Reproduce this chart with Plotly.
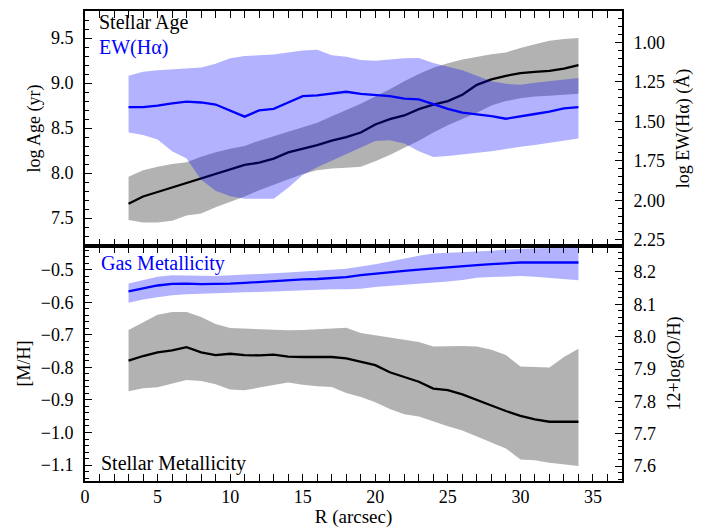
import plotly.graph_objects as go
from plotly.subplots import make_subplots

# ---------------- data ----------------
R = [3, 4, 5, 6, 7, 8, 9, 10, 11, 12, 13, 14, 15, 16, 17, 18, 19, 20, 21, 22,
     23, 24, 25, 26, 27, 28, 29, 30, 31, 32, 33, 34]

age = [7.66, 7.74, 7.79, 7.84, 7.89, 7.94, 7.99, 8.04, 8.09, 8.115, 8.16, 8.23,
       8.27, 8.31, 8.36, 8.40, 8.45, 8.54, 8.60, 8.64, 8.71, 8.76, 8.80, 8.87,
       8.98, 9.04, 9.08, 9.11, 9.125, 9.135, 9.16, 9.20]
age_hi = [7.96, 8.03, 8.07, 8.10, 8.12, 8.18, 8.23, 8.27, 8.30, 8.36, 8.41, 8.46,
          8.51, 8.56, 8.63, 8.70, 8.77, 8.85, 8.93, 9.02, 9.10, 9.17, 9.22, 9.26,
          9.29, 9.32, 9.34, 9.39, 9.43, 9.47, 9.49, 9.50]
age_lo = [7.48, 7.45, 7.45, 7.47, 7.53, 7.55, 7.62, 7.68, 7.74, 7.81, 7.87, 7.93,
          7.99, 8.03, 8.05, 8.06, 8.07, 8.13, 8.20, 8.28, 8.36, 8.45, 8.53, 8.60,
          8.67, 8.75, 8.80, 8.83, 8.85, 8.86, 8.87, 8.88]

ew = [1.41, 1.41, 1.40, 1.385, 1.375, 1.38, 1.393, 1.43, 1.47, 1.43, 1.42, 1.38,
      1.34, 1.335, 1.322, 1.312, 1.325, 1.334, 1.34, 1.355, 1.36, 1.39, 1.42,
      1.445, 1.455, 1.466, 1.483, 1.47, 1.453, 1.438, 1.417, 1.41]
ew_top = [1.21, 1.185, 1.175, 1.17, 1.165, 1.158, 1.135, 1.10, 1.085, 1.079,
          1.076, 1.063, 1.05, 1.045, 1.08, 1.09, 1.11, 1.115, 1.108, 1.10, 1.098,
          1.13, 1.153, 1.175, 1.21, 1.245, 1.262, 1.268, 1.255, 1.245, 1.235, 1.225]
ew_bot = [1.57, 1.587, 1.615, 1.69, 1.735, 1.87, 1.94, 1.975, 1.99, 1.99, 1.99,
          1.92, 1.84, 1.79, 1.75, 1.71, 1.67, 1.625, 1.62, 1.64, 1.69, 1.725,
          1.72, 1.71, 1.703, 1.69, 1.675, 1.66, 1.65, 1.635, 1.62, 1.608]

mh = [-0.779, -0.765, -0.754, -0.748, -0.738, -0.754, -0.762, -0.758, -0.762,
      -0.763, -0.761, -0.767, -0.768, -0.768, -0.768, -0.772, -0.782, -0.793,
      -0.815, -0.830, -0.844, -0.865, -0.870, -0.883, -0.899, -0.917, -0.934,
      -0.949, -0.960, -0.967, -0.967, -0.967]
mh_hi = [-0.685, -0.662, -0.638, -0.630, -0.630, -0.645, -0.667, -0.679, -0.681,
         -0.682, -0.686, -0.686, -0.685, -0.682, -0.680, -0.678, -0.694, -0.701,
         -0.708, -0.714, -0.722, -0.736, -0.734, -0.734, -0.736, -0.746, -0.762,
         -0.797, -0.799, -0.800, -0.768, -0.743]
mh_lo = [-0.873, -0.864, -0.861, -0.850, -0.839, -0.842, -0.852, -0.868, -0.870,
         -0.862, -0.855, -0.846, -0.853, -0.858, -0.860, -0.879, -0.891, -0.907,
         -0.928, -0.944, -0.951, -0.967, -0.981, -0.994, -1.013, -1.030, -1.049,
         -1.083, -1.085, -1.093, -1.098, -1.103]

oh = [8.140, 8.150, 8.158, 8.163, 8.164, 8.162, 8.162, 8.164, 8.166, 8.169,
      8.172, 8.174, 8.177, 8.178, 8.180, 8.184, 8.190, 8.195, 8.199, 8.203,
      8.207, 8.211, 8.215, 8.218, 8.221, 8.224, 8.227, 8.229, 8.229, 8.229,
      8.229, 8.229]
oh_hi = [8.164, 8.175, 8.185, 8.19, 8.19, 8.188, 8.187, 8.189, 8.19, 8.193,
         8.196, 8.198, 8.201, 8.203, 8.207, 8.21, 8.216, 8.224, 8.232, 8.242,
         8.25, 8.257, 8.259, 8.261, 8.262, 8.265, 8.269, 8.272, 8.273, 8.274,
         8.275, 8.275]
oh_lo = [8.105, 8.115, 8.122, 8.128, 8.131, 8.133, 8.135, 8.136, 8.137, 8.138,
         8.14, 8.142, 8.144, 8.146, 8.146, 8.146, 8.148, 8.153, 8.156, 8.16,
         8.164, 8.167, 8.17, 8.175, 8.182, 8.184, 8.186, 8.187, 8.185, 8.181,
         8.177, 8.174]

# ---------------- styles ----------------
FONT = "Liberation Serif"
GREY_FILL = "rgba(0,0,0,0.30)"
BLUE_FILL = "rgba(0,0,255,0.30)"
BLUE = "#0000ff"
BLACK = "#000000"

fig = make_subplots(rows=2, cols=1, shared_xaxes=True, vertical_spacing=0,
                    specs=[[{"secondary_y": True}], [{"secondary_y": True}]])


def band(lo, hi, color, row, sec):
    fig.add_trace(go.Scatter(x=R, y=lo, mode="lines", line=dict(width=0),
                             hoverinfo="skip", showlegend=False),
                  row=row, col=1, secondary_y=sec)
    fig.add_trace(go.Scatter(x=R, y=hi, mode="lines", line=dict(width=0),
                             fill="tonexty", fillcolor=color,
                             hoverinfo="skip", showlegend=False),
                  row=row, col=1, secondary_y=sec)


def line(y, color, row, sec):
    fig.add_trace(go.Scatter(x=R, y=y, mode="lines",
                             line=dict(color=color, width=2.3),
                             showlegend=False),
                  row=row, col=1, secondary_y=sec)


# top panel
band(age_lo, age_hi, GREY_FILL, 1, False)
line(age, BLACK, 1, False)
band(ew_bot, ew_top, BLUE_FILL, 1, True)
line(ew, BLUE, 1, True)

# bottom panel
band(mh_lo, mh_hi, GREY_FILL, 2, False)
line(mh, BLACK, 2, False)
band(oh_lo, oh_hi, BLUE_FILL, 2, True)
line(oh, BLUE, 2, True)

axis_common = dict(showline=True, linecolor="black", linewidth=1.8,
                   ticks="inside", ticklen=7, tickwidth=1.3, tickcolor="black",
                   showgrid=False, zeroline=False, ticklabelstandoff=6,
                   automargin=False,
                   tickfont=dict(family=FONT, size=18, color="black"),
                   title_font=dict(family=FONT, size=18, color="black"))

# x axes
for r in (1, 2):
    fig.update_xaxes(range=[0, 37], dtick=5, tick0=0, mirror="allticks",
                     domain=[0, 1],
                     minor=dict(ticks="inside", dtick=1, ticklen=4,
                                tickwidth=1, tickcolor="black"),
                     row=r, col=1, **axis_common)
fig.update_xaxes(title_text="R (arcsec)", title_standoff=4, ticklabelstandoff=-2,
                 title_font=dict(family=FONT, size=19, color="black"),
                 row=2, col=1)

# top left / right
fig.update_yaxes(range=[7.19, 9.8], dtick=0.5, tick0=7.5, tickformat=".1f",
                 mirror=False, title_text="log Age (yr)", title_standoff=6,
                 minor=dict(ticks="inside", dtick=0.1, ticklen=4, tickwidth=1,
                            tickcolor="black"),
                 row=1, col=1, secondary_y=False, **axis_common)
fig.update_yaxes(range=[2.29, 0.80], dtick=0.25, tick0=1.0, tickformat=".2f",
                 title_text="log EW(Hα) (Å)",
                 minor=dict(ticks="inside", dtick=0.05, ticklen=4, tickwidth=1,
                            tickcolor="black"),
                 row=1, col=1, secondary_y=True, **axis_common)
fig.update_yaxes(title_standoff=12, row=1, col=1, secondary_y=True)

# bottom left / right
fig.update_yaxes(range=[-1.149, -0.427], dtick=0.1, tick0=-0.5, tickformat=".1f",
                 mirror=False, title_text="[M/H]", title_standoff=6,
                 minor=dict(ticks="inside", dtick=0.02, ticklen=4, tickwidth=1,
                            tickcolor="black"),
                 row=2, col=1, secondary_y=False, **axis_common)
fig.update_yaxes(range=[7.554, 8.28], dtick=0.1, tick0=7.6, tickformat=".1f",
                 title_text="12+log(O/H)",
                 minor=dict(ticks="inside", dtick=0.02, ticklen=4, tickwidth=1,
                            tickcolor="black"),
                 row=2, col=1, secondary_y=True, **axis_common)
fig.update_yaxes(title_standoff=12, row=2, col=1, secondary_y=True)

# labels inside panels
labels = [("Stellar Age", BLACK, 0.022, 0.976),
          ("EW(Hα)", BLUE, 0.022, 0.922),
          ("Gas Metallicity", BLUE, 0.027, 0.462),
          ("Stellar Metallicity", BLACK, 0.027, 0.038)]
for txt, col, xx, yy in labels:
    fig.add_annotation(text=txt, x=xx, y=yy, xref="paper", yref="paper",
                       xanchor="left", yanchor="middle", showarrow=False,
                       font=dict(family=FONT, size=20, color=col))

fig.update_layout(width=707, height=531,
                  margin=dict(l=85, r=85, t=11, b=50),
                  paper_bgcolor="white", plot_bgcolor="white",
                  font=dict(family=FONT, size=18, color="black"),
                  showlegend=False)

fig.write_html("out.html")
